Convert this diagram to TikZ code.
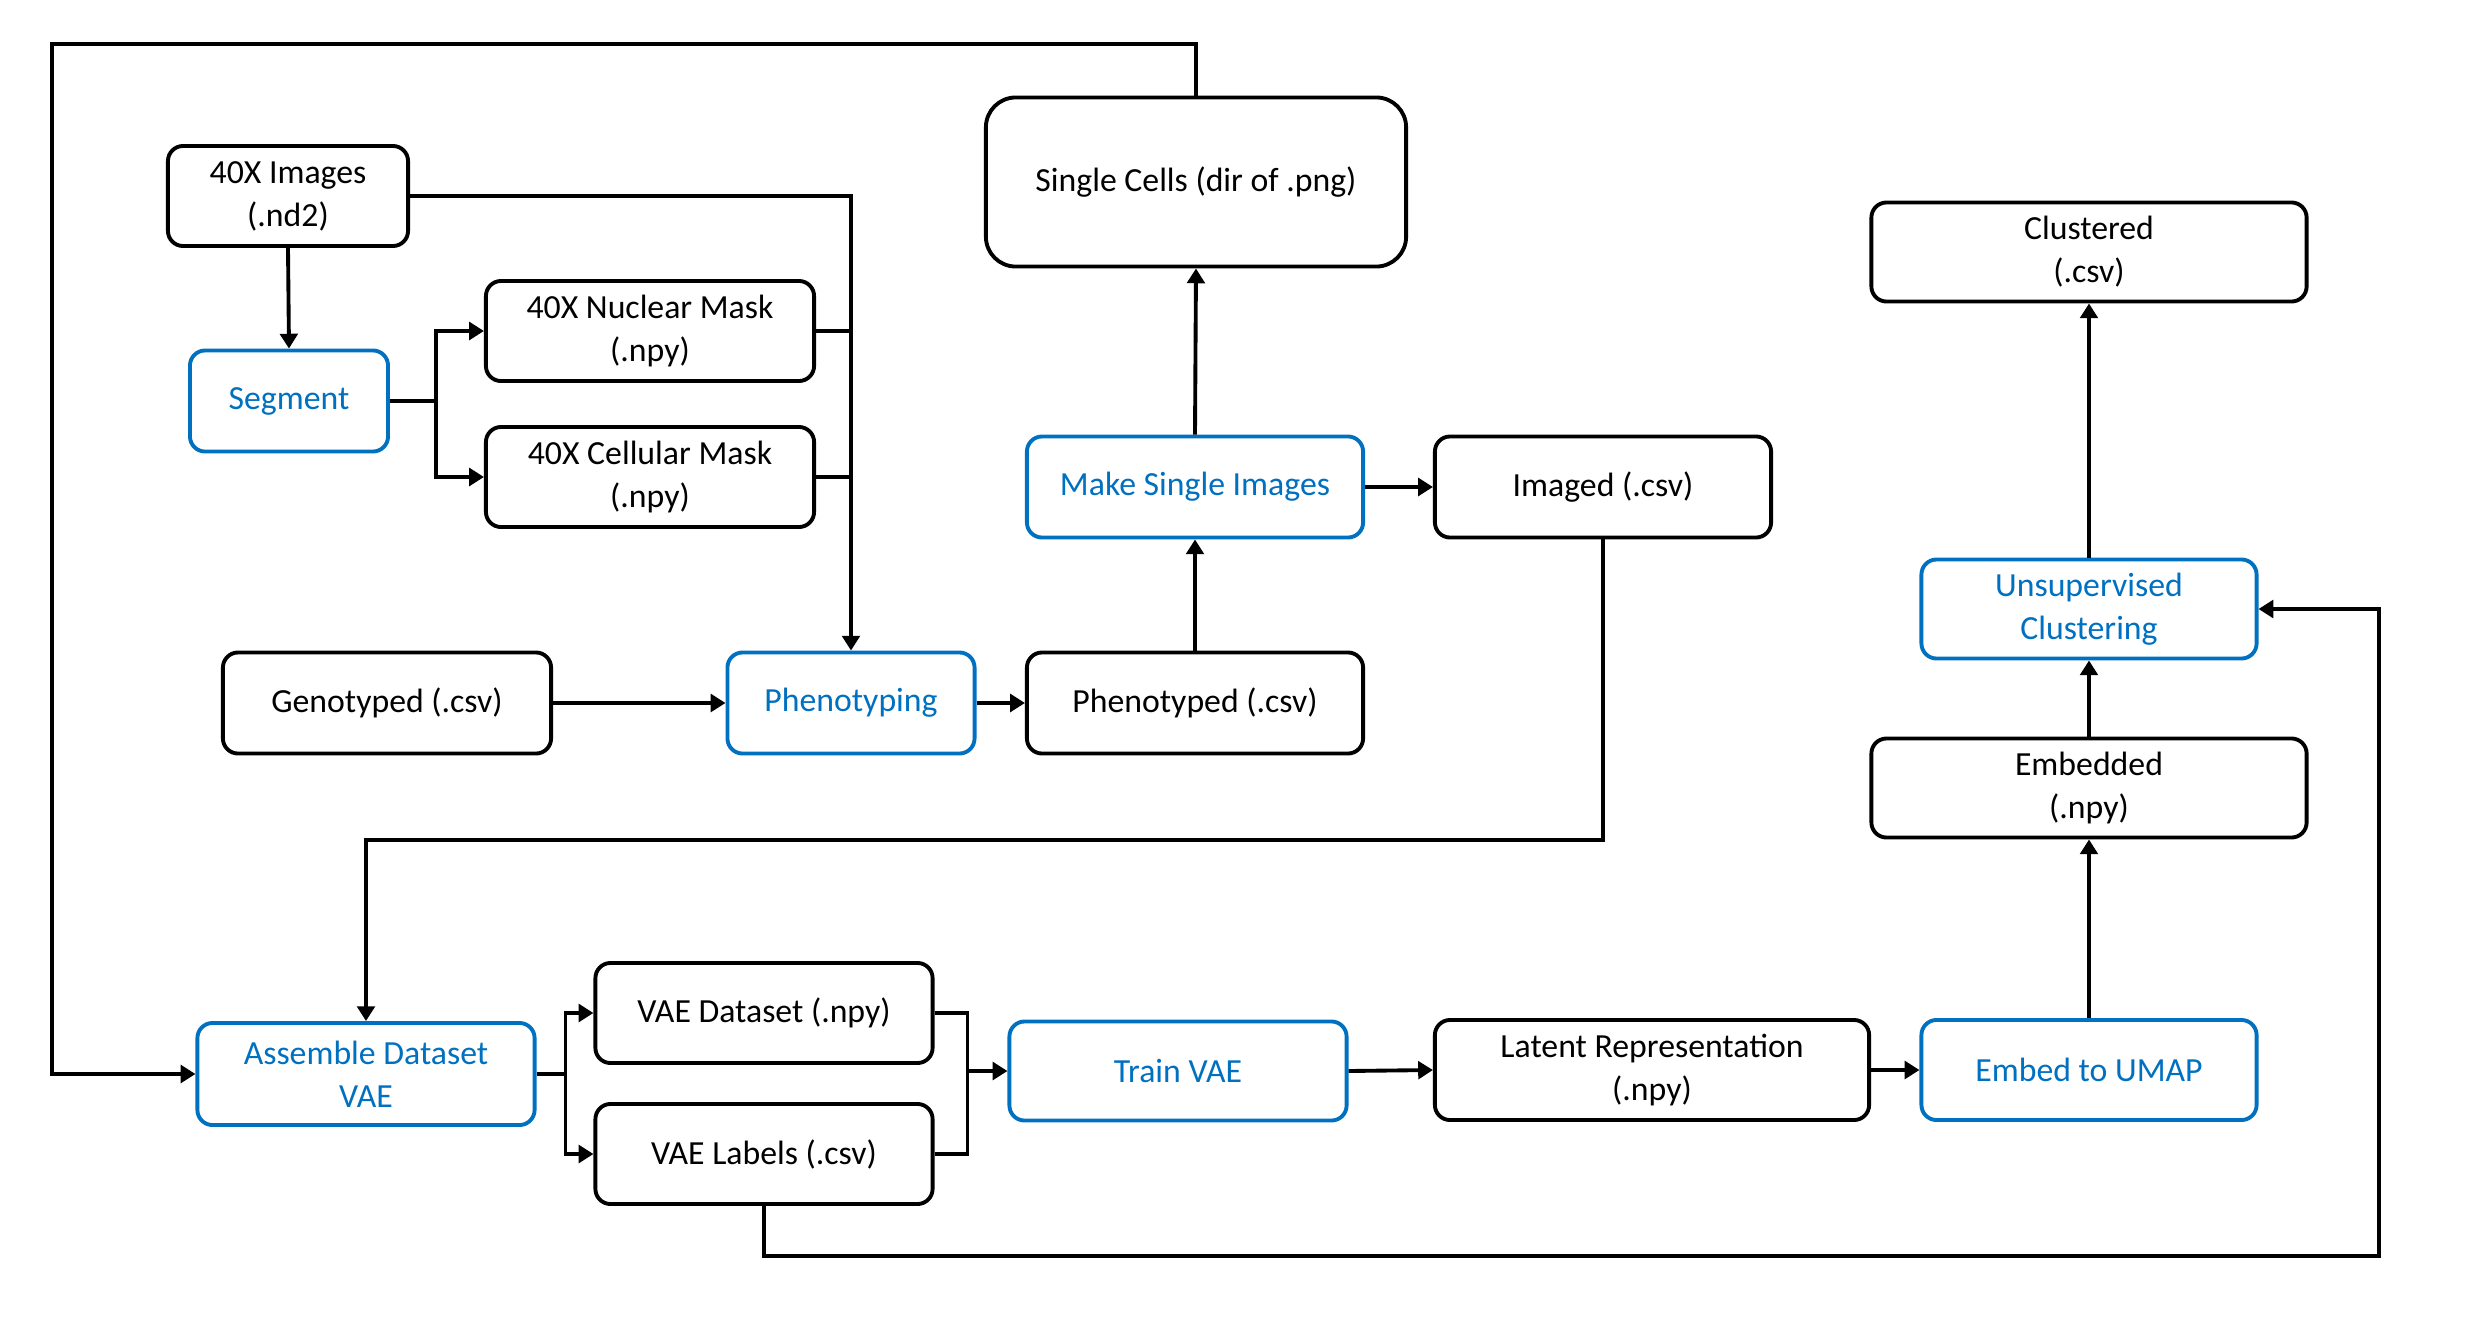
\documentclass[tikz,border=0pt]{standalone}
\usepackage{fontspec}
\setmainfont{Carlito}
\usetikzlibrary{arrows.meta}
\definecolor{procblue}{HTML}{0070C0}
\tikzset{
  filebox/.style={draw=black, line width=1.1pt, rounded corners=4.3pt, align=center,
    font=\fontsize{9.6}{12.2}\selectfont, inner sep=0pt},
  procbox/.style={filebox, draw=procblue, text=procblue},
  link/.style={line width=1.1pt, -{Triangle[length=4.2pt,width=5pt]}},
  plain/.style={line width=1.1pt},
  sz/.style 2 args={minimum width=#1cm, minimum height=#2cm},
}
\begin{document}
\begin{tikzpicture}[x=0.01cm, y=-0.01cm]
\useasboundingbox (0,0) rectangle (2487,1333);

% upper pipeline: segmentation and phenotyping
\node[filebox, sz={2.40}{1.00}] (img) at (288,196) {40X Images\\(.nd2)};
\node[procbox, sz={1.98}{1.01}] (seg) at (289,401) {Segment};
\node[filebox, sz={3.28}{1.00}] (nuc) at (650,331) {40X Nuclear Mask\\(.npy)};
\node[filebox, sz={3.28}{1.00}] (cel) at (650,477) {40X Cellular Mask\\(.npy)};
\node[filebox, sz={3.28}{1.01}] (gen) at (387,703) {Genotyped (.csv)};
\node[procbox, sz={2.47}{1.01}] (phg) at (851,703) {Phenotyping};
\node[filebox, sz={3.36}{1.01}] (phd) at (1195,703) {Phenotyped (.csv)};
\node[procbox, sz={3.36}{1.01}] (msi) at (1195,487) {Make Single Images};
\node[filebox, sz={3.36}{1.01}] (imd) at (1603,487) {Imaged (.csv)};
\node[filebox, sz={4.20}{1.69}, rounded corners=8.5pt] (sc) at (1196,182) {Single Cells (dir of .png)};

% right column: embedding and clustering
\node[filebox, sz={4.35}{0.99}] (clu) at (2089,252) {Clustered\\(.csv)};
\node[procbox, sz={3.35}{0.99}] (usc) at (2089,609) {Unsupervised\\Clustering};
\node[filebox, sz={4.35}{0.99}] (emb) at (2089,788) {Embedded\\(.npy)};
\node[procbox, sz={3.35}{1.00}] (umap) at (2089,1070) {Embed to UMAP};

% lower pipeline: VAE
\node[filebox, sz={4.34}{1.00}] (lat) at (1652,1070) {Latent Representation\\(.npy)};
\node[procbox, sz={3.37}{0.99}] (tvae) at (1178,1071) {Train VAE};
\node[filebox, sz={3.37}{1.00}] (vds) at (764,1013) {VAE Dataset (.npy)};
\node[filebox, sz={3.37}{1.00}] (vlb) at (764,1154) {VAE Labels (.csv)};
\node[procbox, sz={3.37}{1.02}] (asm) at (366,1074) {Assemble Dataset\\VAE};

% segmentation fan-out
\draw[link] (img.south) -- (seg.north);
\draw[plain] (seg.east) -- ++(46,0) coordinate (sj);
\draw[link] (sj) |- (nuc.west);
\draw[link] (sj) |- (cel.west);

% inputs gathered into phenotyping
\draw[link] (img.east) -| (phg.north);
\draw[plain] (nuc.east) -- (nuc.east -| phg.north);
\draw[plain] (cel.east) -- (cel.east -| phg.north);
\draw[link] (gen.east) -- (phg.west);
\draw[link] (phg.east) -- (phd.west);
\draw[link] (phd.north) -- (msi.south);
\draw[link] (msi.north) -- (sc.south);
\draw[link] (msi.east) -- (imd.west);

% feeds into dataset assembly
\coordinate (r1) at (0,840);
\draw[link] (imd.south) -- (imd.south |- r1) -| (asm.north);
\coordinate (top) at (52,44);
\draw[link] (sc.north) |- (top) |- (asm.west);

% dataset fan-out and merge
\draw[plain] (asm.east) -- ++(29,0) coordinate (aj);
\draw[link] (aj) |- (vds.west);
\draw[link] (aj) |- (vlb.west);
\path (tvae.west) ++(-40,0) coordinate (vj);
\draw[plain] (vds.east) -| (vj);
\draw[plain] (vlb.east) -| (vj);
\draw[link] (vj) -- (tvae.west);

% training, embedding, clustering
\draw[link] (tvae.east) -- (lat.west);
\draw[link] (lat.east) -- (umap.west);
\draw[link] (umap.north) -- (emb.south);
\draw[link] (emb.north) -- (usc.south);
\draw[link] (usc.north) -- (clu.south);

% labels routed to clustering
\coordinate (bot) at (2379,1256);
\draw[link] (vlb.south) |- (bot) |- (usc.east);
\end{tikzpicture}
\end{document}
